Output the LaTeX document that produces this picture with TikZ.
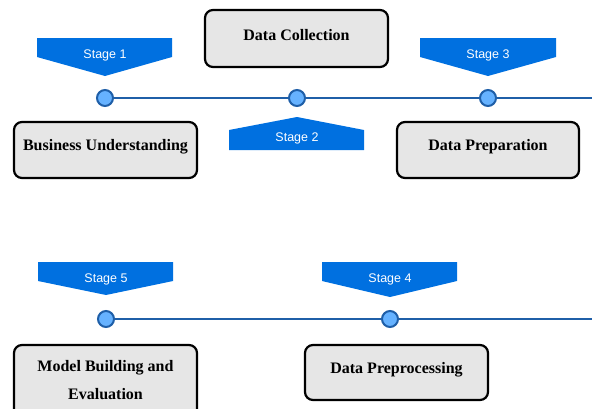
\documentclass[tikz,border=0pt]{standalone}
\usepackage{fontspec}
\setmainfont{Liberation Serif}
\newfontfamily\stagefont{Liberation Sans}
\definecolor{bannerblue}{HTML}{0070E0}
\definecolor{dotfill}{HTML}{66B2FF}
\definecolor{dotline}{HTML}{1F5FA8}
\definecolor{boxfill}{HTML}{E6E6E6}
\begin{document}
\begin{tikzpicture}[x=1pt,y=-1pt,
  dot/.style={circle,draw=dotline,fill=dotfill,line width=2pt,minimum size=16pt,inner sep=0pt},
  tline/.style={draw=dotline,line width=1.8pt},
  box/.style={draw=black,fill=boxfill,line width=2.2pt,rounded corners=8pt,inner sep=0pt},
  boxtext/.style={font=\fontsize{16}{28}\selectfont\bfseries,inner sep=0pt,align=center},
  banner/.style={fill=bannerblue},
  stagetext/.style={font=\stagefont\fontsize{12.5}{14}\selectfont,text=white,inner sep=0pt}]
\useasboundingbox (0,0) rectangle (592,408);
\clip (0,0) rectangle (592,408);
% top row
\node[dot] (c1) at (105,98) {};
\node[dot] (c2) at (297,98) {};
\node[dot] (c3) at (488,98) {};
\coordinate (e1) at (594,98);
\draw[tline] (c1) -- (c2);
\draw[tline] (c2) -- (c3);
\draw[tline] (c3) -- (e1);
\fill[banner] (37,38) -- (172,38) -- (172,57) -- (105,76) -- (37,57) -- cycle;
\node[stagetext] (s1) at (105,55) {Stage 1};
\fill[banner] (420,38) -- (556,38) -- (556,57) -- (488,76) -- (420,57) -- cycle;
\node[stagetext] (s3) at (488,55) {Stage 3};
\fill[banner] (229,150) -- (364,150) -- (364,130) -- (297,117) -- (229,130) -- cycle;
\node[stagetext] (s2) at (297,138) {Stage 2};
\node[box,minimum width=183pt,minimum height=56pt] (b1) at (105.5,150) {};
\node[boxtext] (t1) at (105.5,147) {Business Understanding};
\node[box,minimum width=183pt,minimum height=57pt] (b2) at (296.5,38.5) {};
\node[boxtext] (t2) at (296.5,35) {Data Collection};
\node[box,minimum width=182pt,minimum height=56pt] (b3) at (488,150) {};
\node[boxtext] (t3) at (488,147) {Data Preparation};
% bottom row
\node[dot] (c5) at (106,319) {};
\node[dot] (c4) at (390,319) {};
\coordinate (e2) at (594,319);
\draw[tline] (c5) -- (c4);
\draw[tline] (c4) -- (e2);
\fill[banner] (38,262) -- (173,262) -- (173,281) -- (106,295) -- (38,281) -- cycle;
\node[stagetext] (s5) at (106,279) {Stage 5};
\fill[banner] (322,262) -- (457,262) -- (457,281) -- (390,297) -- (322,281) -- cycle;
\node[stagetext] (s4) at (390,279) {Stage 4};
\node[box,minimum width=183pt,minimum height=80pt] (b5) at (105.5,385) {};
\node[boxtext] (t5) at (105.5,380) {Model Building and\\Evaluation};
\node[box,minimum width=183pt,minimum height=55pt] (b4) at (396.5,372.5) {};
\node[boxtext] (t4) at (396.5,370) {Data Preprocessing};
\end{tikzpicture}
\end{document}
